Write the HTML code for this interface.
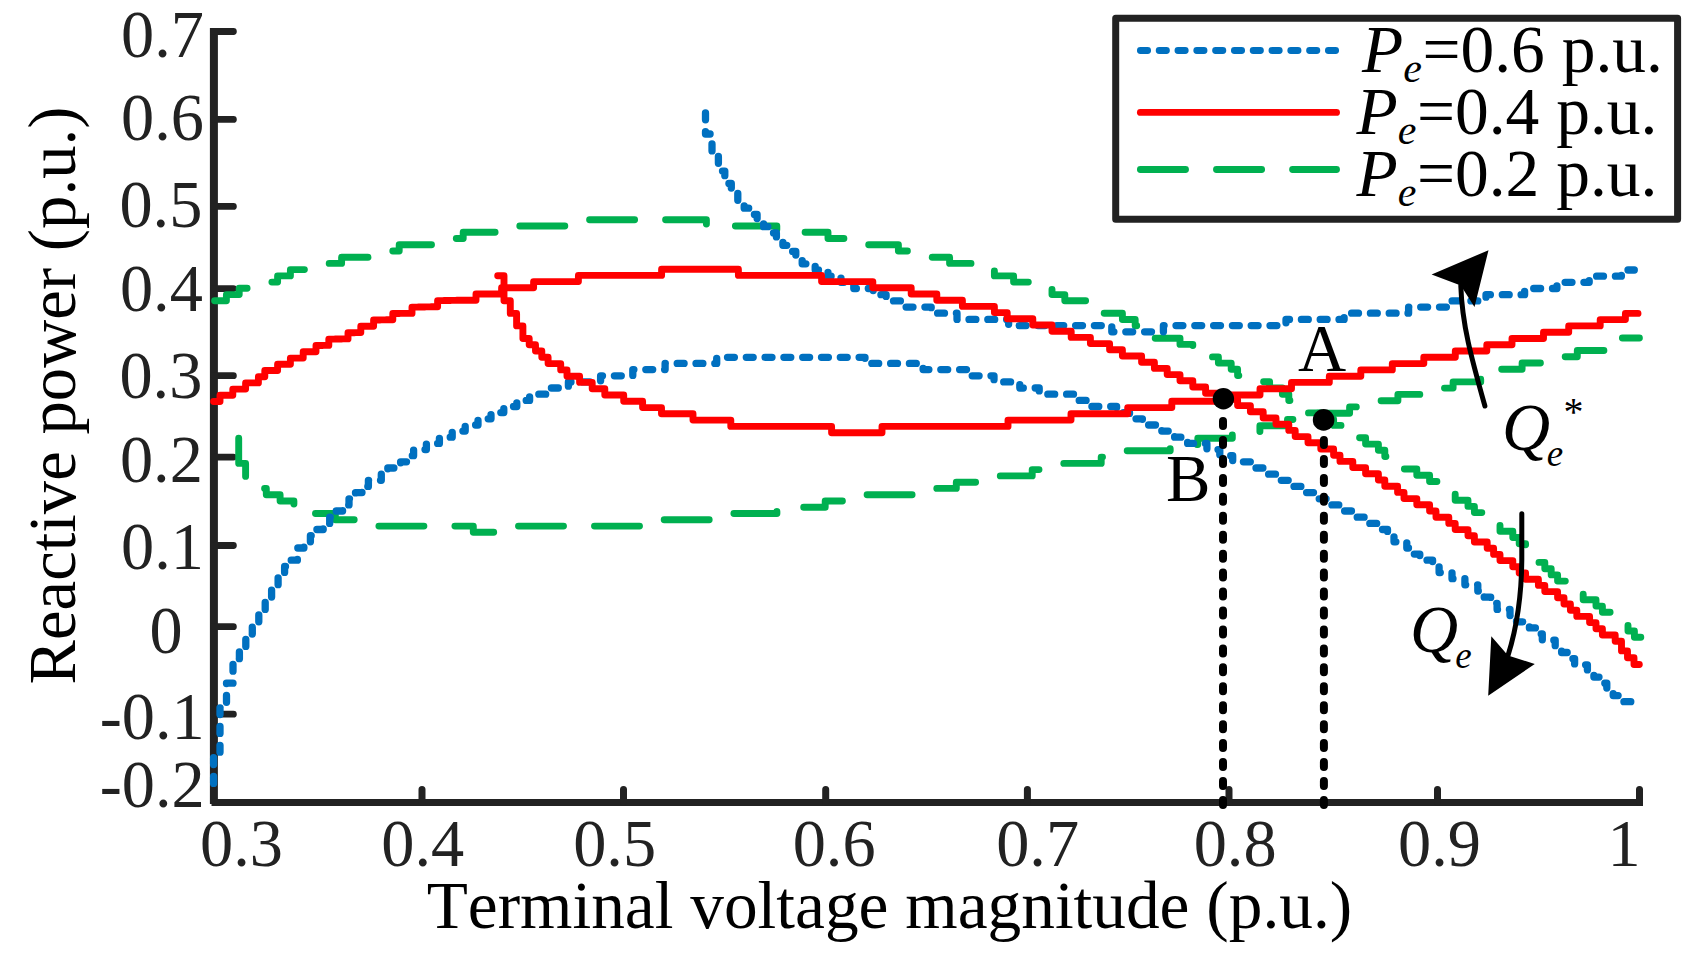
<!DOCTYPE html>
<html lang="en"><head><meta charset="utf-8"><title>Reactive power vs terminal voltage magnitude</title>
<style>html,body{margin:0;padding:0;background:#fff}body{width:1691px;height:966px;overflow:hidden}svg{display:block}</style></head>
<body>
<svg width="1691" height="966" viewBox="0 0 1691 966">
<rect width="1691" height="966" fill="#fff"/>
<g stroke="#222222" fill="none">
<path d="M213.9 28V804" stroke-width="8"/>
<path d="M211.5 802.4H1643" stroke-width="7"/>
<path d="M213.4 802.9L211.5 801" stroke-width="3" stroke-linecap="round"/>
<path d="M214 31.5H233.4M214 119.4H233.4M214 206.4H233.4M214 288.6H233.4M214 375.7H233.4M214 457.1H233.4M214 545.5H233.4M214 626.7H233.4M214 714.2H233.4" stroke-width="6.8" stroke-linecap="round"/>
<path d="M422.0 802V789.5M623.5 802V789.5M825.7 802V789.5M1027.4 802V789.5M1229.0 802V789.5M1437.5 802V789.5M1639.5 802V789.5" stroke-width="7" stroke-linecap="round"/>
</g>
<g fill="none" stroke-width="6.9" stroke-linejoin="round" stroke-linecap="round">
<path d="M213.6 300.8H226.4V294.6H239.2V288.3H258.4V282.1H277.6V275.9H290.4V269.6H316V263.4H335.2H341.6V257.2H373.6H380V251H392.8H399.2V244.7H437.6V238.5H456.8H463.2V232.3H508V226H578.4V219.8H706.4V226H776.8V232.3H828V238.5H860V244.7H892H898.4V251H924V257.2H949.6V263.4H975.2V269.6H988H994.4V275.9H1013.6V282.1H1039.2V288.3H1052V294.6H1064.8V300.8H1090.4V307H1103.2V313.2H1122.4V319.5H1135.2V325.7H1148V331.9H1154.4V338.2H1173.6H1180V344.4H1192.8V350.6H1205.6V356.9H1218.4V363.1H1231.2V369.3H1237.6V375.6H1250.4H1256.8V381.8H1269.6V388H1276H1282.4V394.2H1288.8V400.5H1301.6V406.7H1308V412.9H1320.8V419.2H1333.6V425.4H1340H1346.4V431.6H1352.8V437.8H1365.6V444.1H1372H1378.4V450.3H1384.8V456.5H1391.2V462.8H1404V469H1410.4H1416.8V475.2H1429.6V481.5H1442.4V487.7H1448.8V493.9H1455.2V500.2H1468V506.4H1474.4V512.6H1480.8H1487.2V518.8H1493.6V525.1H1500V531.3H1512.8V537.5H1519.2V543.8H1525.6V550H1532V556.2H1538.4V562.4H1544.8V568.7H1551.2V574.9H1557.6V581.1H1570.4V587.4H1576.8V593.6H1583.2V599.8H1596V606.1H1602.4V612.3H1608.8H1615.2V618.5H1621.6V624.8H1628V631H1634.4V637.2H1640.8" stroke="#00b050" stroke-dasharray="45 31" stroke-dashoffset="75"/>
<path d="M238.7 438.3V463.4H245.6V482.2H259.4V488.4H266.3V494.7H280.1V501H293.9V507.3H314.6V513.5H335.3V519.8H369.8V526.1H473.3V532.3H507.8V526.1H645.8V519.8H721.7V513.5H776.9V507.3H825.2V501H859.7V494.7H921.8V488.4H928.7H956.3V482.2H990.8V475.9H1032.2V469.6H1046V463.4H1052.9H1101.2V457.1H1121.9V450.8H1170.2V444.6H1197.8V438.3H1232.3V432H1259.9V425.8H1287.5V419.5H1308.2V413.2H1349.6V406.9H1370.3V400.7H1397.9V394.4H1432.4V388.1H1453.1V381.9H1480.7V375.6H1494.5V369.3H1501.4H1522.1V363H1556.6V356.8H1577.3V350.5H1604.9V344.2H1618.7V338H1639.4" stroke="#00b050" stroke-dasharray="45 31" stroke-dashoffset="0"/>
<path d="M705.5 112.9V134H712V152.6H718.4V171.1H724.8V183.5H731.3V189.6H737.8V202H744.2V208.2H750.6V214.4H757.1V220.5H763.6V226.7H770V232.9H776.4V239.1H782.9V245.3H789.4V251.4H795.8V257.6H802.2V263.8H808.7H815.2V270H828V276.2H841V282.3H853.8V288.5H873.2V294.7H886.1V300.9H905.4V307.1H911.9H931.2V313.2H957V319.4H1008.6V325.6H1111.8V331.8H1163.4V325.6H1169.9H1286V319.4H1344.1V313.2H1408.6V307.1H1447.2V300.9H1486V294.7H1524.6V288.5H1556.9V282.3H1589.2V276.2H1621.4V270H1634.3" stroke="#0070c0" stroke-width="7.3" stroke-dasharray="6.9 11.9"/>
<path d="M213.6 783.4V757H220V707.8H226.5V683.2H233V658.7H239.4V646.4H245.8V634H252.3V621.8H258.8V609.4H265.2V597.2H271.6V584.8H278.1V572.6H284.6V566.4H291V560.2H297.4V554.1V548H303.9V541.8H310.4V535.7H316.8V529.5H323.2V523.4H329.7V517.2H336.2V511H342.6V504.9H349V498.8H355.5V492.6H362V486.4H368.4V480.3H374.8H381.3V474.2H387.8V468H400.6V461.8H407.1V455.7H413.6V449.6H426.4V443.4H439.4V437.2H452.2V431.1H465.2V425H478V418.8H491V412.6H503.8V406.5H516.8V400.4H529.6V394.2H536.1H549V388H555.4H568.4V381.9H600.6V375.8H632.8V369.6H665.1V363.4H716.7V357.3H865V363.4H923.1V369.6H968.2V375.8H994V381.9H1019.8V388H1039.2V394.2H1077.9V400.4H1090.8V406.5H1116.6V412.6H1129.5V418.8H1142.4V425H1161.8V431.1H1174.6V437.2H1187.6V443.4H1194H1206.9V449.6H1219.8V455.7H1232.7V461.8H1252V468H1265V474.2H1277.8V480.3H1290.8V486.4H1303.6V492.6H1316.6V498.8H1329.4V504.9H1342.4V511H1355.2V517.2H1368.1V523.4H1381V529.5H1387.5V535.7H1394V541.8H1406.8V548H1413.3V554.1H1419.8V560.2H1432.6V566.4H1439.1V572.6H1452V578.7H1464.9V584.8H1477.8V591H1484.2V597.2H1490.7V603.3H1497.1V609.4H1510V615.6H1516.5V621.8H1529.4V627.9H1535.8V634H1542.3V640.2H1555.2V646.4H1561.6V652.5H1568.1V658.7H1574.6V664.8H1587.4V671H1593.9V677.1H1600.4V683.2H1606.8V689.4H1613.2V695.6H1619.7V701.7H1626.1H1632.6V707.8" stroke="#0070c0" stroke-width="7.3" stroke-dasharray="6.9 11.9"/>
<path d="M213.6 401.5H220V395.3H232.8V389.1H245.6V382.9H258.4V376.7H264.8V370.5H277.6V364.3H290.4V358.1H303.2V351.8H309.6V351.7H316V345.5H322.4V345.4H328.8V339.1H335.2V339H341.6V338.9H348V332.7H354.4V332.6H360.8V326.3H367.2V326.2H373.6V320H380V319.9H386.4V319.8H392.8V313.5H399.2V313.4H412V307.1H418.4V307H424.8V306.9H431.2V306.8H437.6V300.6H444V300.5H450.4V300.4H456.8V300.3H463.2V300.2H469.6H476V294H501.6V287.8H533.6V281.6H578.4V275.4H661.6V269.2H738.4V275.4H815.2H821.6V281.6H866.4H872.8V287.8H904.8H911.2V294H936.8V300.2H962.4V306.4H994.4V312.6H1007.2V318.8H1032.8V325H1052V331.2H1071.2V337.4H1090.4V343.6H1103.2H1109.6V349.8H1122.4V356H1141.6V362.2H1154.4V368.4H1167.2V374.6H1180V380.8H1192.8V387H1205.6V393.2H1218.4V399.4H1231.2H1237.6V405.6H1250.4V411.8H1263.2V418H1276V424.2H1288.8V430.4H1295.2V436.6H1308V442.8H1320.8V449H1333.6V455.2H1340V461.4H1352.8V467.6H1365.6V473.8H1378.4V480H1384.8V486.2H1397.6V492.4H1404V498.6H1416.8V504.8H1423.2H1429.6V511H1436V517.2H1448.8V523.4H1455.2V529.6H1468V535.8H1474.4V542H1480.8H1487.2V548.2H1493.6V554.4H1500V560.6H1512.8V566.8H1519.2V573H1525.6V579.2H1538.4V585.4H1544.8V591.6H1551.2H1557.6V597.8H1564V604H1570.4V610.2H1576.8V616.4H1589.6V622.6H1596V628.8H1602.4V635H1615.2V641.2H1621.5V650.9H1627.5V657.7H1634V664.5H1639.3" stroke="#ff0000"/>
<path d="M497.7 275.7H504V300.8H510.3V313.4H516.6V325.9H522.9V338.5H529.2V344.8H535.5V351H541.8V357.3H548.1V363.6H560.7V369.9H567V376.2H579.6V382.4H592.2V388.7H604.8V395H623.7V401.3H642.6V407.6H661.5V413.8H693V420.1H730.8V426.4H831.6V432.7H882V426.4H1008V420.1H1071V413.8H1127.7V407.6H1171.8V401.3H1228.5V395H1260V388.7H1291.5V382.4H1329.3V376.2H1360.8V369.9H1392.3V363.6H1423.8V357.3H1455.3V351H1486.8V344.8H1512V338.5H1543.5V332.2H1568.7V325.9H1600.2V319.6H1625.4V313.4H1638" stroke="#ff0000"/>
</g>
<g stroke="#000" stroke-width="8" stroke-linecap="round" fill="none" stroke-dasharray="5 13.94">
<path d="M1223 421.1V805"/>
<path d="M1323.9 440.04V805"/>
</g>
<circle cx="1223.4" cy="398.7" r="10.7" fill="#000"/>
<circle cx="1323.6" cy="419.9" r="10.8" fill="#000"/>
<g stroke="#000" stroke-width="5" fill="none" stroke-linecap="round">
<path d="M1484.9 406C1472 360 1462 325 1460.8 285.6"/>
<path d="M1521.8 513.8V560C1521.5 600 1516 630 1508 655.6"/>
</g>
<path d="M1488.5 250.2L1431.6 274.5L1460.8 285.6L1474.5 307.1Z" fill="#000"/>
<path d="M1488.2 695.8L1491.3 636.2L1508 655.6L1534.8 664Z" fill="#000"/>
<rect x="1115.7" y="18.3" width="561.9" height="201" fill="#fff" stroke="#222222" stroke-width="7" stroke-linejoin="round"/>
<g fill="none" stroke-width="6.9" stroke-linecap="round">
<path d="M1140.4 50.5H1336.5" stroke="#0070c0" stroke-dasharray="7.2 11.6"/>
<path d="M1140.4 112.4H1336.5" stroke="#ff0000"/>
<path d="M1140.4 169.5H1336.5" stroke="#00b050" stroke-dasharray="45.1 31"/>
</g>
<g font-family="'Liberation Serif', 'Times New Roman', serif" font-size="67.5" fill="#000" style="font-kerning:none">
<text x="1362" y="71.8"><tspan font-style="italic">P</tspan><tspan font-style="italic" font-size="42" dy="10">e</tspan><tspan dy="-10" dx="0.5">=0.6 p.u.</tspan></text>
<text x="1356.5" y="133.9"><tspan font-style="italic">P</tspan><tspan font-style="italic" font-size="42" dy="10">e</tspan><tspan dy="-10" dx="0.5">=0.4 p.u.</tspan></text>
<text x="1356.5" y="196"><tspan font-style="italic">P</tspan><tspan font-style="italic" font-size="42" dy="10">e</tspan><tspan dy="-10" dx="0.5">=0.2 p.u.</tspan></text>
</g>
<g font-family="'Liberation Serif', 'Times New Roman', serif" font-size="68" fill="#222222" style="font-kerning:none">
<text x="121.1" y="56.6" textLength="82.9" lengthAdjust="spacingAndGlyphs">0.7</text>
<text x="121.1" y="139.6" textLength="82.9" lengthAdjust="spacingAndGlyphs">0.6</text>
<text x="119.4" y="227.3" textLength="82.9" lengthAdjust="spacingAndGlyphs">0.5</text>
<text x="119.9" y="311.2" textLength="82.9" lengthAdjust="spacingAndGlyphs">0.4</text>
<text x="119.4" y="398.3" textLength="82.9" lengthAdjust="spacingAndGlyphs">0.3</text>
<text x="119.9" y="482.1" textLength="82.9" lengthAdjust="spacingAndGlyphs">0.2</text>
<text x="121.1" y="568.9" textLength="82.9" lengthAdjust="spacingAndGlyphs">0.1</text>
<text x="149.6" y="652.7" textLength="33.1" lengthAdjust="spacingAndGlyphs">0</text>
<text x="99.7" y="738.5" textLength="105.0" lengthAdjust="spacingAndGlyphs">-0.1</text>
<text x="99.7" y="807.3" textLength="105.0" lengthAdjust="spacingAndGlyphs">-0.2</text>
<text x="200.0" y="865.9" textLength="82.9" lengthAdjust="spacingAndGlyphs">0.3</text>
<text x="381.3" y="865.9" textLength="82.9" lengthAdjust="spacingAndGlyphs">0.4</text>
<text x="573.2" y="865.9" textLength="82.9" lengthAdjust="spacingAndGlyphs">0.5</text>
<text x="792.7" y="865.9" textLength="82.9" lengthAdjust="spacingAndGlyphs">0.6</text>
<text x="996.2" y="865.9" textLength="82.9" lengthAdjust="spacingAndGlyphs">0.7</text>
<text x="1193.7" y="865.9" textLength="82.9" lengthAdjust="spacingAndGlyphs">0.8</text>
<text x="1398.0" y="865.9" textLength="82.9" lengthAdjust="spacingAndGlyphs">0.9</text>
<text x="1607.6" y="865.9" textLength="33.1" lengthAdjust="spacingAndGlyphs">1</text>
</g>
<g font-family="'Liberation Serif', 'Times New Roman', serif" font-size="66.7" fill="#000" style="font-kerning:none">
<text x="426.7" y="927.8" textLength="925.5" lengthAdjust="spacingAndGlyphs">Terminal voltage magnitude (p.u.)</text>
<text transform="translate(75 684.6) rotate(-90)" textLength="578" lengthAdjust="spacingAndGlyphs">Reactive power (p.u.)</text>
<text x="1298" y="370.6">A</text>
<text x="1166" y="500.5">B</text>
<text x="1502" y="450"><tspan font-style="italic">Q</tspan><tspan font-style="italic" font-size="37" dy="16" dx="-3.5">e</tspan><tspan font-size="40" dy="-41" dx="0.5">*</tspan></text>
<text x="1410" y="651.5"><tspan font-style="italic">Q</tspan><tspan font-style="italic" font-size="37" dy="16" dx="-3">e</tspan></text>
</g>
</svg>
</body></html>
